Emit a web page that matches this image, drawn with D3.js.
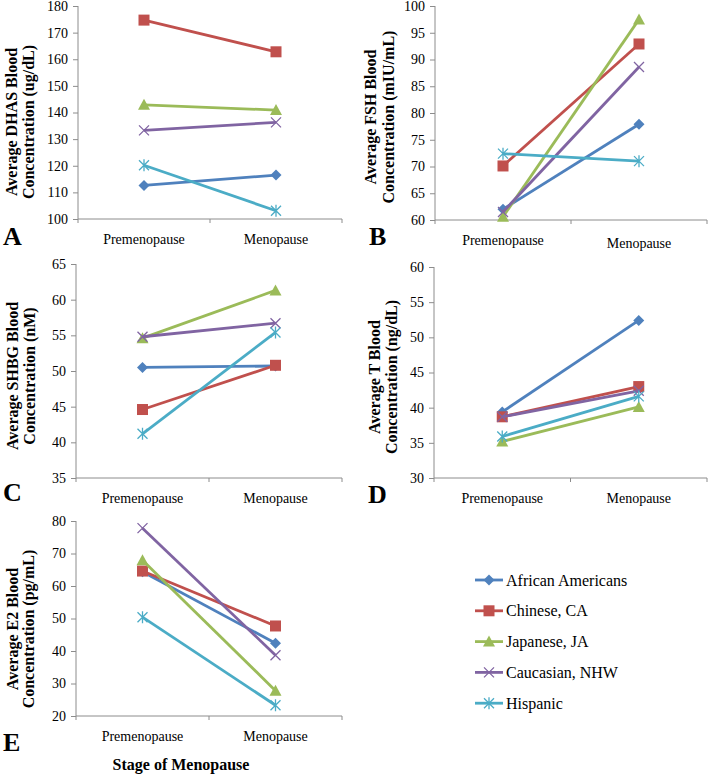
<!DOCTYPE html>
<html><head><meta charset="utf-8">
<script src="https://cdn.jsdelivr.net/npm/d3@7"></script>
<style>body{margin:0;background:#fff}svg{display:block}svg text{font-family:"Liberation Serif","DejaVu Serif",serif !important}</style>
</head><body><svg id="c" width="709" height="775"></svg>
<script>
const stages = ["Premenopause", "Menopause"];
const groups = ["African Americans", "Chinese, CA", "Japanese, JA", "Caucasian, NHW", "Hispanic"];
const colors = ["#4F81BD", "#C0504D", "#9BBB59", "#8064A2", "#4BACC6"];
const markers = ["diamond", "square", "triangle", "x", "star"];

const dhas = [[112.6, 116.5], [174.7, 162.8], [142.9, 140.9], [133.3, 136.3], [120.2, 103.1]];
const fsh = [[62.0, 77.9], [70.1, 92.9], [60.6, 97.5], [61.5, 88.6], [72.4, 71.0]];
const shbg = [[50.5, 50.7], [44.6, 50.8], [54.6, 61.3], [54.8, 56.7], [41.2, 55.4]];
const tLevels = [[39.4, 52.4], [38.7, 43.0], [35.2, 40.1], [38.7, 42.4], [35.9, 41.6]];
const e2 = [[64.4, 42.4], [64.6, 47.7], [67.9, 27.8], [77.8, 38.7], [50.4, 23.3]];

const dhasTicks = [100, 110, 120, 130, 140, 150, 160, 170, 180];
const fshTicks = [60, 65, 70, 75, 80, 85, 90, 95, 100];
const shbgTicks = [35, 40, 45, 50, 55, 60, 65];
const tTicks = [30, 35, 40, 45, 50, 55, 60];
const e2Ticks = [20, 30, 40, 50, 60, 70, 80];

const panelLetters = ["A", "B", "C", "D", "E"];
const titles = [
  ["Average DHAS Blood", "Concentration (ug/dL)"],
  ["Average FSH Blood", "Concentration (mIU/mL)"],
  ["Average SHBG Blood", "Concentration (nM)"],
  ["Average T Blood", "Concentration (ng/dL)"],
  ["Average E2 Blood", "Concentration (pg/mL)"]
];
const xTitle = "Stage of Menopause";

// layout
const panels = [
  {data: dhas, ticks: dhasTicks, x0: 78, x1: 342, yT: 6, yB: 219, lx: 3, ly: 245, tx: [11, 28], tc: 122},
  {data: fsh, ticks: fshTicks, x0: 435, x1: 707, yT: 6, yB: 220, lx: 369, ly: 245, tx: [370, 388], tc: 117, menoShift: 3},
  {data: shbg, ticks: shbgTicks, x0: 76, x1: 342, yT: 264, yB: 478, lx: 3, ly: 501, tx: [12, 29], tc: 376},
  {data: tLevels, ticks: tTicks, x0: 434, x1: 707, yT: 267, yB: 478, lx: 368, ly: 503, tx: [374, 391], tc: 377},
  {data: e2, ticks: e2Ticks, x0: 76, x1: 342, yT: 521, yB: 716, lx: 3, ly: 751, tx: [12, 28], tc: 629}
];

const svg = d3.select("#c");
const axisColor = "#8c8c8c";
const FONT = "Liberation Serif, DejaVu Serif, serif";

function drawMarker(g, type, color, x, y) {
  const s = g.append("g").attr("transform", `translate(${x},${y})`);
  if (type === "diamond") {
    s.append("path").attr("d", "M0,-5.5L5.5,0L0,5.5L-5.5,0Z").attr("fill", color);
  } else if (type === "square") {
    s.append("rect").attr("x", -5.5).attr("y", -5.5).attr("width", 11).attr("height", 11).attr("fill", color);
  } else if (type === "triangle") {
    s.append("path").attr("d", "M0,-6L6,5L-6,5Z").attr("fill", color);
  } else if (type === "x") {
    s.append("path").attr("d", "M-5,-5L5,5M-5,5L5,-5").attr("stroke", color).attr("stroke-width", 1.3).attr("fill", "none");
  } else if (type === "star") {
    s.append("path").attr("d", "M-5,-5L5,5M-5,5L5,-5M0,-6L0,6").attr("stroke", color).attr("stroke-width", 1.3).attr("fill", "none");
  }
}

panels.forEach((p, pi) => {
  const g = svg.append("g").attr("font-family", FONT);
  const x = d3.scaleBand().domain(stages).range([p.x0, p.x1]);
  const y = d3.scaleLinear().domain(d3.extent(p.ticks)).range([p.yB, p.yT]);

  // y axis
  const ya = g.append("g").attr("transform", `translate(${p.x0},0)`)
    .call(d3.axisLeft(y).tickValues(p.ticks).tickSize(5).tickPadding(5).tickFormat(d3.format("d")))
    .attr("font-family", FONT).attr("font-size", 14);
  ya.select(".domain").attr("stroke", axisColor).attr("d", `M0,${p.yT}V${p.yB}`);
  ya.selectAll(".tick line").attr("stroke", axisColor);
  ya.selectAll(".tick text").attr("fill", "#000");

  // x axis
  const xa = g.append("g").attr("transform", `translate(0,${p.yB})`);
  xa.append("line").attr("x1", p.x0).attr("x2", p.x1).attr("y1", 0).attr("y2", 0).attr("stroke", axisColor);
  const bounds = [p.x0, p.x0 + x.bandwidth(), p.x1];
  xa.selectAll("line.tk").data(bounds).enter().append("line").attr("class", "tk")
    .attr("x1", d => d).attr("x2", d => d).attr("y1", 0).attr("y2", 4).attr("stroke", axisColor);
  xa.selectAll("text").data(stages).enter().append("text")
    .attr("x", d => x(d) + x.bandwidth() / 2)
    .attr("y", (d, i) => 25 + (i === 1 && p.menoShift ? p.menoShift : 0))
    .attr("text-anchor", "middle").attr("font-size", 14).attr("fill", "#000").text(d => d);

  // series
  p.data.forEach((vals, si) => {
    const pts = vals.map((v, i) => [x(stages[i]) + x.bandwidth() / 2, y(v)]);
    g.append("path").attr("d", d3.line()(pts)).attr("stroke", colors[si])
      .attr("stroke-width", 2.8).attr("fill", "none");
    pts.forEach(pt => drawMarker(g, markers[si], colors[si], pt[0], pt[1]));
  });

  // y title
  titles[pi].forEach((t, li) => {
    g.append("text").attr("transform", `translate(${p.tx[li]},${p.tc}) rotate(-90)`)
      .attr("text-anchor", "middle").attr("dominant-baseline", "central")
      .attr("font-size", 16).attr("font-weight", "bold").attr("fill", "#000").text(t);
  });

  // panel letter
  g.append("text").attr("x", p.lx).attr("y", p.ly).attr("font-size", 26)
    .attr("font-weight", "bold").attr("fill", "#000").text(panelLetters[pi]);
});

// x title
svg.append("text").attr("x", 181).attr("y", 770).attr("text-anchor", "middle")
  .attr("font-size", 16).attr("font-weight", "bold").attr("fill", "#000").text(xTitle);

// legend
const lg = svg.append("g");
groups.forEach((gName, i) => {
  const cy = 580 + i * 30.8;
  lg.append("line").attr("x1", 475).attr("x2", 503).attr("y1", cy).attr("y2", cy)
    .attr("stroke", colors[i]).attr("stroke-width", 2.8);
  drawMarker(lg, markers[i], colors[i], 489, cy);
  lg.append("text").attr("x", 506).attr("y", cy).attr("dominant-baseline", "central")
    .attr("font-size", 16).attr("fill", "#000").text(gName);
});
</script></body></html>
